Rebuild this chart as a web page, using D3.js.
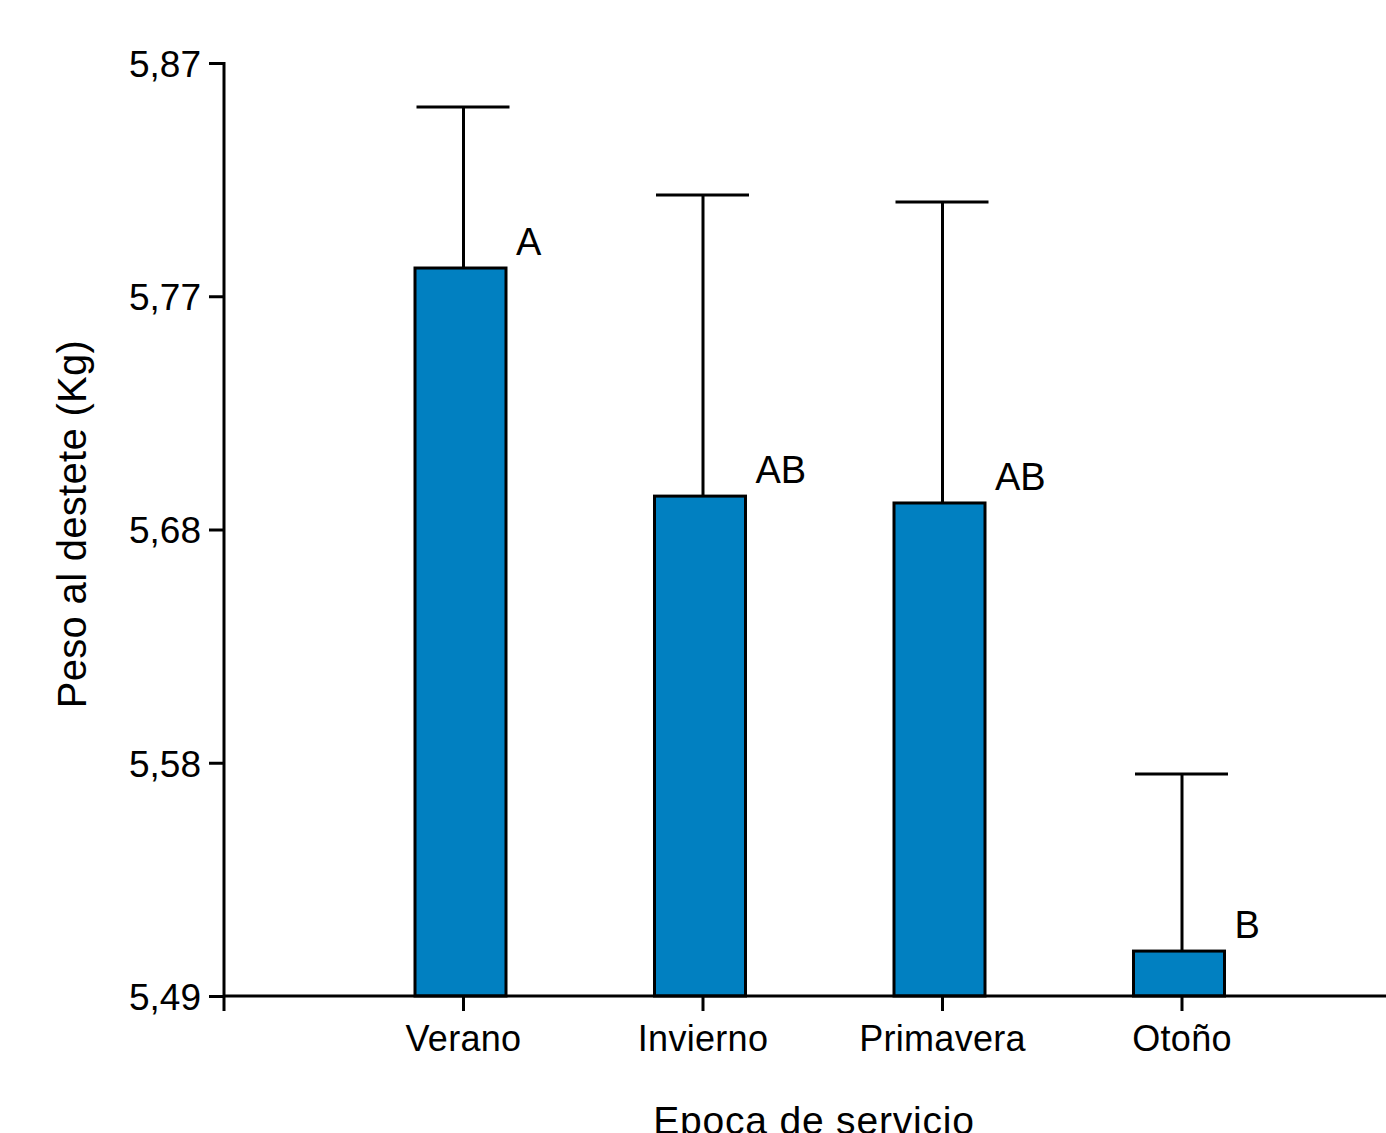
<!DOCTYPE html>
<html>
<head>
<meta charset="utf-8">
<script src="https://cdn.jsdelivr.net/npm/d3@7"></script>
<style>
  body{margin:0;background:#fff;}
  text{font-family:"Liberation Sans",Arial,sans-serif;fill:#000;}
</style>
</head>
<body>
<div id="container"></div>
<script>
let w=1386;
let h=1133;

// data
let categories = ["Verano","Invierno","Primavera","Otoño"];
let means = [5.7865, 5.6936, 5.6908, 5.5083];
let upper = [5.8521, 5.8162, 5.8134, 5.5804];
let letters = ["A","AB","AB","B"];
let tickValues = [5.49, 5.585, 5.68, 5.775, 5.87];
let tickLabels = ["5,49","5,58","5,68","5,77","5,87"];

let axisX = 224;
let axisY = 996;
let step = 239.5;

let viz = d3.select("#container")
  .append("svg")
    .attr("width",w)
    .attr("height",h)
    .style("background-color","#fff")
;

let y = d3.scaleLinear().domain([5.49,5.87]).range([axisY,63]);

let x = d3.scaleBand()
  .domain(categories)
  .range([axisX+step*0.5, axisX+step*4.5])
  .paddingInner(0)
  .paddingOuter(0);

function cx(d){ return x(d)+x.bandwidth()/2; }

let barW = 91;
let barShift = -3;  // bars sit a little left of the tick
function barX(d){ return cx(d)-barW/2+barShift; }

// y axis
let yAxis = d3.axisLeft(y)
  .tickValues(tickValues)
  .tickFormat((d,i)=>tickLabels[i])
  .tickSize(15)
  .tickPadding(8);

let yg = viz.append("g")
  .attr("transform","translate("+axisX+",0)")
  .call(yAxis);
yg.select(".domain").remove();
yg.selectAll(".tick line").attr("stroke","#000").attr("stroke-width",3);
yg.selectAll(".tick text").style("font-size","37px").attr("dy","0.36em");

viz.append("line")
  .attr("x1",axisX).attr("x2",axisX)
  .attr("y1",y(5.87)-1).attr("y2",axisY+15)
  .attr("stroke","#000").attr("stroke-width",3);

// error bars
let eb = viz.selectAll(".eb").data(categories).enter()
  .append("g").attr("class","eb");

eb.append("line")
  .attr("x1",cx).attr("x2",cx)
  .attr("y1",(d,i)=>y(upper[i]))
  .attr("y2",(d,i)=>y(means[i]))
  .attr("stroke","#000").attr("stroke-width",3);

eb.append("line")
  .attr("x1",d=>cx(d)-47).attr("x2",d=>cx(d)+46)
  .attr("y1",(d,i)=>y(upper[i]))
  .attr("y2",(d,i)=>y(upper[i]))
  .attr("stroke","#000").attr("stroke-width",3);

// bars
viz.selectAll(".bar").data(categories).enter()
  .append("rect")
    .attr("class","bar")
    .attr("x",barX)
    .attr("width",barW)
    .attr("y",(d,i)=>y(means[i]))
    .attr("height",(d,i)=>axisY-y(means[i]))
    .attr("fill","#0180c1")
    .attr("stroke","#000")
    .attr("stroke-width",3);

// x axis
let xAxis = d3.axisBottom(x)
  .tickSize(15)
  .tickPadding(14);

let xg = viz.append("g")
  .attr("transform","translate(0,"+axisY+")")
  .call(xAxis);
xg.select(".domain").remove();
xg.selectAll(".tick line").attr("stroke","#000").attr("stroke-width",3);
xg.selectAll(".tick text").style("font-size","36px").style("letter-spacing","0.3px");

viz.append("line")
  .attr("x1",axisX-1).attr("x2",w)
  .attr("y1",axisY).attr("y2",axisY)
  .attr("stroke","#000").attr("stroke-width",3);

// letters
viz.selectAll(".letter").data(categories).enter()
  .append("text")
    .attr("class","letter")
    .attr("x",d=>barX(d)+barW+10)
    .attr("y",(d,i)=>y(means[i])-13)
    .style("font-size","38px")
    .text((d,i)=>letters[i]);

// titles
viz.append("text")
  .attr("x",814)
  .attr("y",1134)
  .attr("text-anchor","middle")
  .style("font-size","39px")
  .style("letter-spacing","0.8px")
  .text("Epoca de servicio");

viz.append("text")
  .attr("transform","translate(86,524) rotate(-90)")
  .attr("text-anchor","middle")
  .style("font-size","40px")
  .style("letter-spacing","0.3px")
  .text("Peso al destete (Kg)");
</script>
</body>
</html>
